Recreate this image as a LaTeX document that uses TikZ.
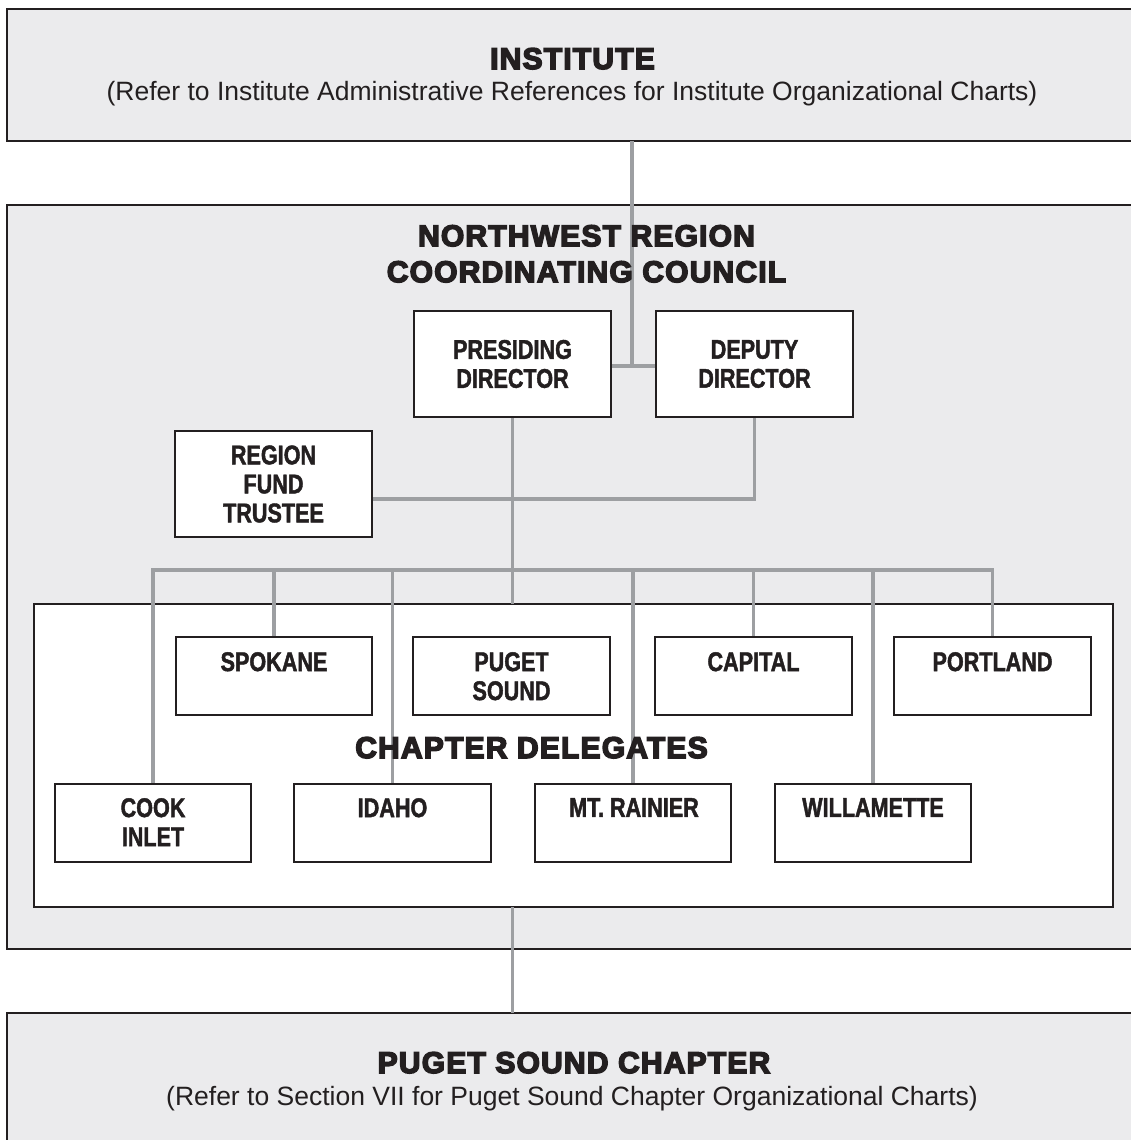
\documentclass[tikz,border=0pt]{standalone}
\usepackage{fontspec}
\setmainfont{Liberation Sans}
\newfontfamily\heavyfont{Liberation Sans Bold}[FakeBold=5,LetterSpace=4]
\newfontfamily\condfont{Liberation Sans Bold}[FakeStretch=0.8,FakeBold=1.6]
\definecolor{ink}{HTML}{231F20}
\definecolor{panel}{HTML}{EBEBED}
\definecolor{linegray}{HTML}{9D9FA2}
\tikzset{
  outerbox/.style={draw=ink, line width=2.8pt, fill=panel, inner sep=0pt, outer sep=0pt},
  innerbox/.style={draw=ink, line width=2pt, fill=white, inner sep=0pt, outer sep=0pt},
  conn/.style={draw=linegray, line width=3.2pt},
  title/.style={font=\heavyfont\fontsize{30}{36}\selectfont, text=ink, inner sep=0pt, align=center},
  subtitle/.style={font=\fontsize{26.5}{30}\selectfont, text=ink, inner sep=0pt},
  boxtext/.style={font=\condfont\fontsize{27}{29}\selectfont, text=ink, inner sep=0pt, align=center}
}
\begin{document}
\begin{tikzpicture}[x=1pt,y=-1pt]
\useasboundingbox (0,0) rectangle (1131,1140);
\clip (0,0) rectangle (1131,1140);
\fill[white] (0,0) rectangle (1131,1140);
% outer panels
\node[outerbox, minimum width=1130pt, minimum height=132pt] (inst) at (572,75) {};
\node[outerbox, minimum width=1130pt, minimum height=744pt] (reg) at (572,577) {};
\node[outerbox, minimum width=1130pt, minimum height=160pt] (psc) at (572,1093) {};
\node[innerbox, minimum width=1079pt, minimum height=303pt] (cd) at (573.5,755.5) {};
% coordinates for junctions
\coordinate (j1) at (632,366);
\coordinate (j2) at (0,499);
\coordinate (bus) at (0,570);
% inner boxes
\path
  node[innerbox, minimum width=197pt, minimum height=106pt] (pres) at (512.5,364) {}
  node[innerbox, minimum width=197pt, minimum height=106pt] (dep) at (754.5,364) {}
  node[innerbox, minimum width=197pt, minimum height=106pt] (fund) at (273.5,484) {}
  node[innerbox, minimum width=196pt, minimum height=78pt] (spk) at (274,676) {}
  node[innerbox, minimum width=197pt, minimum height=78pt] (pug) at (511.5,676) {}
  node[innerbox, minimum width=197pt, minimum height=78pt] (cap) at (753.5,676) {}
  node[innerbox, minimum width=197pt, minimum height=78pt] (port) at (992.5,676) {}
  node[innerbox, minimum width=196pt, minimum height=78pt] (cook) at (153,823) {}
  node[innerbox, minimum width=197pt, minimum height=78pt] (ida) at (392.5,823) {}
  node[innerbox, minimum width=196pt, minimum height=78pt] (mtr) at (633,823) {}
  node[innerbox, minimum width=196pt, minimum height=78pt] (wil) at (873,823) {};
% connectors
\draw[conn] (inst.south -| j1) -- (j1);
\draw[conn] (pres.east |- j1) -- (dep.west |- j1);
\draw[conn] (dep.south) |- (fund.east |- j2);
\draw[conn] (pres.south) -- (pres.south |- cd.north);
\draw[conn] (cook.north) |- (bus -| pres.south) -| (port.north);
\draw[conn] (spk.north) -- (spk.north |- bus);
\draw[conn] (ida.north) -- (ida.north |- bus);
\draw[conn] (mtr.north) -- (mtr.north |- bus);
\draw[conn] (cap.north) -- (cap.north |- bus);
\draw[conn] (wil.north) -- (wil.north |- bus);
\draw[conn] (cd.south -| pres.south) -- (psc.north -| pres.south);
% redraw inner box borders on top
\foreach \b in {pres,dep,fund,spk,pug,cap,port,cook,ida,mtr,wil}
  \draw[draw=ink, line width=2pt] (\b.north west) rectangle (\b.south east);
% texts
\node[title, anchor=base] (tinst) at (572.5,69) {INSTITUTE};
\node[subtitle, anchor=base] (sinst) at (572,100) {(Refer to Institute Administrative References for Institute Organizational Charts)};
\node[title, anchor=north] (treg) at (586.5,225) {NORTHWEST REGION\\COORDINATING COUNCIL};
\node[title, anchor=base] (tcd) at (531.5,758) {CHAPTER DELEGATES};
\node[title, anchor=base] (tpsc) at (574,1073) {PUGET SOUND CHAPTER};
\node[subtitle, anchor=base] (spsc) at (572,1105) {(Refer to Section VII for Puget Sound Chapter Organizational Charts)};
\node[boxtext] (tpres) at (pres.center) {PRESIDING\\DIRECTOR};
\node[boxtext] (tdep) at (dep.center) {DEPUTY\\DIRECTOR};
\node[boxtext] (tfund) at (fund.center) {REGION\\FUND\\TRUSTEE};
\node[boxtext, anchor=north] (tspk) at (274,652) {SPOKANE};
\node[boxtext, anchor=north] (tpug) at (511.5,652) {PUGET\\SOUND};
\node[boxtext, anchor=north] (tcap) at (753.5,652) {CAPITAL};
\node[boxtext, anchor=north] (tport) at (992.5,652) {PORTLAND};
\node[boxtext, anchor=north] (tcook) at (153,798) {COOK\\INLET};
\node[boxtext, anchor=north] (tida) at (392.5,798) {IDAHO};
\node[boxtext, anchor=north] (tmtr) at (634,798) {MT. RAINIER};
\node[boxtext, anchor=north] (twil) at (873,798) {WILLAMETTE};
\end{tikzpicture}
\end{document}
